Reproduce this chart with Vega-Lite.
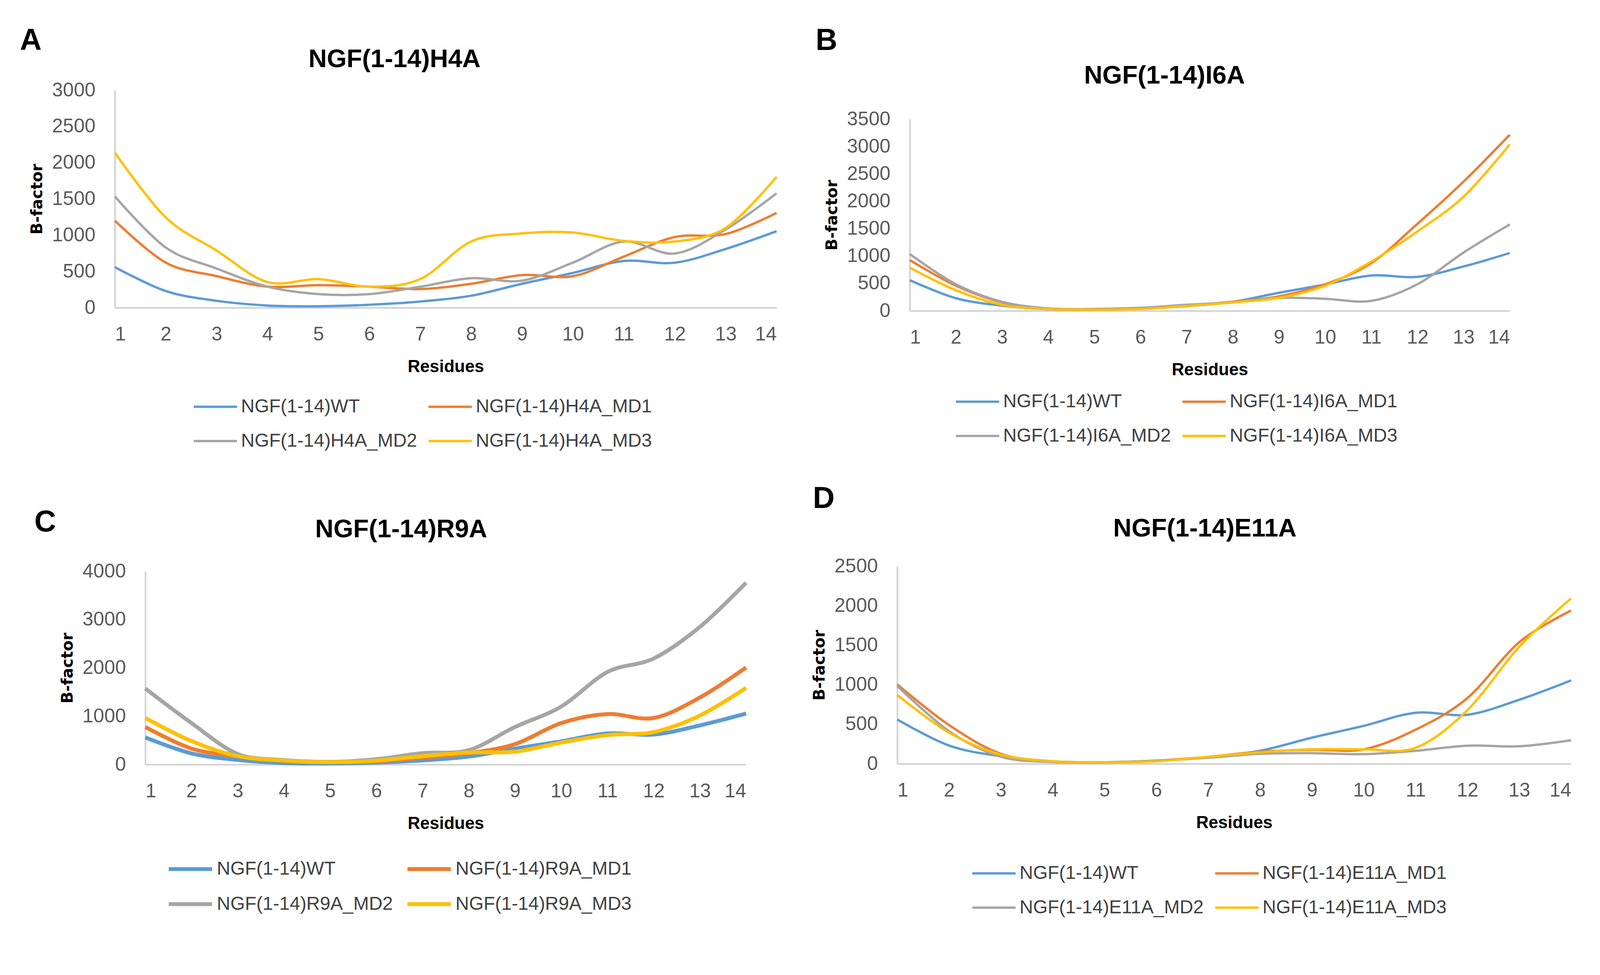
{
  "$schema": "https://vega.github.io/schema/vega-lite/v6.json",
  "background": "white",
  "padding": {"left": 51, "top": 66, "right": 10, "bottom": 10},
  "config": {
    "view": {"stroke": null},
    "font": "Liberation Sans",
    "title": {"font": "Liberation Sans", "fontWeight": "bold", "fontSize": 65, "color": "#000000"},
    "axis": {"domainColor": "#D0D0D0", "domainWidth": 4, "ticks": false, "grid": false, "labelFont": "Liberation Sans", "labelFontSize": 50, "labelColor": "#595959", "titleColor": "#000000"},
    "axisX": {"labelPadding": 43, "titleFont": "Liberation Sans", "titleFontSize": 44, "titleFontWeight": "bold", "titlePadding": 36},
    "axisY": {"labelPadding": 50, "titleFont": "DejaVu Sans", "titleFontSize": 40, "titleFontWeight": "bold", "titlePadding": 17},
    "legend": {"orient": "none", "columns": 2, "direction": "horizontal", "title": null, "symbolType": "stroke", "symbolSize": 12321, "symbolStrokeWidth": 6, "labelFont": "Liberation Sans", "labelFontSize": 48, "labelColor": "#404040", "labelLimit": 0, "labelOffset": 7, "rowPadding": 5, "columnPadding": 17, "padding": 0}
  },
  "datasets": {
    "A": [
      {"r":1,"s":"NGF(1-14)WT","b":560},{"r":2,"s":"NGF(1-14)WT","b":230},{"r":3,"s":"NGF(1-14)WT","b":95},{"r":4,"s":"NGF(1-14)WT","b":30},{"r":5,"s":"NGF(1-14)WT","b":20},{"r":6,"s":"NGF(1-14)WT","b":40},{"r":7,"s":"NGF(1-14)WT","b":85},{"r":8,"s":"NGF(1-14)WT","b":165},{"r":9,"s":"NGF(1-14)WT","b":330},{"r":10,"s":"NGF(1-14)WT","b":480},{"r":11,"s":"NGF(1-14)WT","b":645},{"r":12,"s":"NGF(1-14)WT","b":620},{"r":13,"s":"NGF(1-14)WT","b":810},{"r":14,"s":"NGF(1-14)WT","b":1055},
      {"r":1,"s":"NGF(1-14)H4A_MD1","b":1200},{"r":2,"s":"NGF(1-14)H4A_MD1","b":622},{"r":3,"s":"NGF(1-14)H4A_MD1","b":435},{"r":4,"s":"NGF(1-14)H4A_MD1","b":290},{"r":5,"s":"NGF(1-14)H4A_MD1","b":311},{"r":6,"s":"NGF(1-14)H4A_MD1","b":290},{"r":7,"s":"NGF(1-14)H4A_MD1","b":257},{"r":8,"s":"NGF(1-14)H4A_MD1","b":330},{"r":9,"s":"NGF(1-14)H4A_MD1","b":450},{"r":10,"s":"NGF(1-14)H4A_MD1","b":435},{"r":11,"s":"NGF(1-14)H4A_MD1","b":705},{"r":12,"s":"NGF(1-14)H4A_MD1","b":975},{"r":13,"s":"NGF(1-14)H4A_MD1","b":1016},{"r":14,"s":"NGF(1-14)H4A_MD1","b":1307},
      {"r":1,"s":"NGF(1-14)H4A_MD2","b":1535},{"r":2,"s":"NGF(1-14)H4A_MD2","b":830},{"r":3,"s":"NGF(1-14)H4A_MD2","b":540},{"r":4,"s":"NGF(1-14)H4A_MD2","b":290},{"r":5,"s":"NGF(1-14)H4A_MD2","b":187},{"r":6,"s":"NGF(1-14)H4A_MD2","b":187},{"r":7,"s":"NGF(1-14)H4A_MD2","b":290},{"r":8,"s":"NGF(1-14)H4A_MD2","b":407},{"r":9,"s":"NGF(1-14)H4A_MD2","b":373},{"r":10,"s":"NGF(1-14)H4A_MD2","b":622},{"r":11,"s":"NGF(1-14)H4A_MD2","b":913},{"r":12,"s":"NGF(1-14)H4A_MD2","b":747},{"r":13,"s":"NGF(1-14)H4A_MD2","b":1079},{"r":14,"s":"NGF(1-14)H4A_MD2","b":1577},
      {"r":1,"s":"NGF(1-14)H4A_MD3","b":2137},{"r":2,"s":"NGF(1-14)H4A_MD3","b":1245},{"r":3,"s":"NGF(1-14)H4A_MD3","b":788},{"r":4,"s":"NGF(1-14)H4A_MD3","b":353},{"r":5,"s":"NGF(1-14)H4A_MD3","b":394},{"r":6,"s":"NGF(1-14)H4A_MD3","b":290},{"r":7,"s":"NGF(1-14)H4A_MD3","b":394},{"r":8,"s":"NGF(1-14)H4A_MD3","b":913},{"r":9,"s":"NGF(1-14)H4A_MD3","b":1025},{"r":10,"s":"NGF(1-14)H4A_MD3","b":1037},{"r":11,"s":"NGF(1-14)H4A_MD3","b":921},{"r":12,"s":"NGF(1-14)H4A_MD3","b":913},{"r":13,"s":"NGF(1-14)H4A_MD3","b":1100},{"r":14,"s":"NGF(1-14)H4A_MD3","b":1805}
    ],
    "B": [
      {"r":1,"s":"NGF(1-14)WT","b":560},{"r":2,"s":"NGF(1-14)WT","b":230},{"r":3,"s":"NGF(1-14)WT","b":95},{"r":4,"s":"NGF(1-14)WT","b":30},{"r":5,"s":"NGF(1-14)WT","b":20},{"r":6,"s":"NGF(1-14)WT","b":40},{"r":7,"s":"NGF(1-14)WT","b":85},{"r":8,"s":"NGF(1-14)WT","b":165},{"r":9,"s":"NGF(1-14)WT","b":330},{"r":10,"s":"NGF(1-14)WT","b":480},{"r":11,"s":"NGF(1-14)WT","b":645},{"r":12,"s":"NGF(1-14)WT","b":620},{"r":13,"s":"NGF(1-14)WT","b":810},{"r":14,"s":"NGF(1-14)WT","b":1055},
      {"r":1,"s":"NGF(1-14)I6A_MD1","b":926},{"r":2,"s":"NGF(1-14)I6A_MD1","b":458},{"r":3,"s":"NGF(1-14)I6A_MD1","b":154},{"r":4,"s":"NGF(1-14)I6A_MD1","b":33},{"r":5,"s":"NGF(1-14)I6A_MD1","b":22},{"r":6,"s":"NGF(1-14)I6A_MD1","b":44},{"r":7,"s":"NGF(1-14)I6A_MD1","b":99},{"r":8,"s":"NGF(1-14)I6A_MD1","b":165},{"r":9,"s":"NGF(1-14)I6A_MD1","b":265},{"r":10,"s":"NGF(1-14)I6A_MD1","b":485},{"r":11,"s":"NGF(1-14)I6A_MD1","b":871},{"r":12,"s":"NGF(1-14)I6A_MD1","b":1588},{"r":13,"s":"NGF(1-14)I6A_MD1","b":2360},{"r":14,"s":"NGF(1-14)I6A_MD1","b":3214},
      {"r":1,"s":"NGF(1-14)I6A_MD2","b":1036},{"r":2,"s":"NGF(1-14)I6A_MD2","b":485},{"r":3,"s":"NGF(1-14)I6A_MD2","b":165},{"r":4,"s":"NGF(1-14)I6A_MD2","b":44},{"r":5,"s":"NGF(1-14)I6A_MD2","b":33},{"r":6,"s":"NGF(1-14)I6A_MD2","b":55},{"r":7,"s":"NGF(1-14)I6A_MD2","b":110},{"r":8,"s":"NGF(1-14)I6A_MD2","b":154},{"r":9,"s":"NGF(1-14)I6A_MD2","b":237},{"r":10,"s":"NGF(1-14)I6A_MD2","b":220},{"r":11,"s":"NGF(1-14)I6A_MD2","b":182},{"r":12,"s":"NGF(1-14)I6A_MD2","b":485},{"r":13,"s":"NGF(1-14)I6A_MD2","b":1064},{"r":14,"s":"NGF(1-14)I6A_MD2","b":1577},
      {"r":1,"s":"NGF(1-14)I6A_MD3","b":788},{"r":2,"s":"NGF(1-14)I6A_MD3","b":375},{"r":3,"s":"NGF(1-14)I6A_MD3","b":110},{"r":4,"s":"NGF(1-14)I6A_MD3","b":33},{"r":5,"s":"NGF(1-14)I6A_MD3","b":22},{"r":6,"s":"NGF(1-14)I6A_MD3","b":33},{"r":7,"s":"NGF(1-14)I6A_MD3","b":88},{"r":8,"s":"NGF(1-14)I6A_MD3","b":154},{"r":9,"s":"NGF(1-14)I6A_MD3","b":237},{"r":10,"s":"NGF(1-14)I6A_MD3","b":458},{"r":11,"s":"NGF(1-14)I6A_MD3","b":899},{"r":12,"s":"NGF(1-14)I6A_MD3","b":1450},{"r":13,"s":"NGF(1-14)I6A_MD3","b":2084},{"r":14,"s":"NGF(1-14)I6A_MD3","b":3038}
    ],
    "C": [
      {"r":1,"s":"NGF(1-14)WT","b":560},{"r":2,"s":"NGF(1-14)WT","b":230},{"r":3,"s":"NGF(1-14)WT","b":95},{"r":4,"s":"NGF(1-14)WT","b":30},{"r":5,"s":"NGF(1-14)WT","b":20},{"r":6,"s":"NGF(1-14)WT","b":40},{"r":7,"s":"NGF(1-14)WT","b":85},{"r":8,"s":"NGF(1-14)WT","b":165},{"r":9,"s":"NGF(1-14)WT","b":330},{"r":10,"s":"NGF(1-14)WT","b":480},{"r":11,"s":"NGF(1-14)WT","b":645},{"r":12,"s":"NGF(1-14)WT","b":620},{"r":13,"s":"NGF(1-14)WT","b":810},{"r":14,"s":"NGF(1-14)WT","b":1055},
      {"r":1,"s":"NGF(1-14)R9A_MD1","b":777},{"r":2,"s":"NGF(1-14)R9A_MD1","b":330},{"r":3,"s":"NGF(1-14)R9A_MD1","b":174},{"r":4,"s":"NGF(1-14)R9A_MD1","b":81},{"r":5,"s":"NGF(1-14)R9A_MD1","b":50},{"r":6,"s":"NGF(1-14)R9A_MD1","b":68},{"r":7,"s":"NGF(1-14)R9A_MD1","b":143},{"r":8,"s":"NGF(1-14)R9A_MD1","b":236},{"r":9,"s":"NGF(1-14)R9A_MD1","b":423},{"r":10,"s":"NGF(1-14)R9A_MD1","b":858},{"r":11,"s":"NGF(1-14)R9A_MD1","b":1045},{"r":12,"s":"NGF(1-14)R9A_MD1","b":964},{"r":13,"s":"NGF(1-14)R9A_MD1","b":1387},{"r":14,"s":"NGF(1-14)R9A_MD1","b":2009},
      {"r":1,"s":"NGF(1-14)R9A_MD2","b":1573},{"r":2,"s":"NGF(1-14)R9A_MD2","b":858},{"r":3,"s":"NGF(1-14)R9A_MD2","b":218},{"r":4,"s":"NGF(1-14)R9A_MD2","b":93},{"r":5,"s":"NGF(1-14)R9A_MD2","b":56},{"r":6,"s":"NGF(1-14)R9A_MD2","b":112},{"r":7,"s":"NGF(1-14)R9A_MD2","b":236},{"r":8,"s":"NGF(1-14)R9A_MD2","b":298},{"r":9,"s":"NGF(1-14)R9A_MD2","b":777},{"r":10,"s":"NGF(1-14)R9A_MD2","b":1200},{"r":11,"s":"NGF(1-14)R9A_MD2","b":1915},{"r":12,"s":"NGF(1-14)R9A_MD2","b":2195},{"r":13,"s":"NGF(1-14)R9A_MD2","b":2848},{"r":14,"s":"NGF(1-14)R9A_MD2","b":3762},
      {"r":1,"s":"NGF(1-14)R9A_MD3","b":964},{"r":2,"s":"NGF(1-14)R9A_MD3","b":485},{"r":3,"s":"NGF(1-14)R9A_MD3","b":174},{"r":4,"s":"NGF(1-14)R9A_MD3","b":81},{"r":5,"s":"NGF(1-14)R9A_MD3","b":50},{"r":6,"s":"NGF(1-14)R9A_MD3","b":81},{"r":7,"s":"NGF(1-14)R9A_MD3","b":174},{"r":8,"s":"NGF(1-14)R9A_MD3","b":249},{"r":9,"s":"NGF(1-14)R9A_MD3","b":267},{"r":10,"s":"NGF(1-14)R9A_MD3","b":454},{"r":11,"s":"NGF(1-14)R9A_MD3","b":609},{"r":12,"s":"NGF(1-14)R9A_MD3","b":672},{"r":13,"s":"NGF(1-14)R9A_MD3","b":1014},{"r":14,"s":"NGF(1-14)R9A_MD3","b":1586}
    ],
    "D": [
      {"r":1,"s":"NGF(1-14)WT","b":560},{"r":2,"s":"NGF(1-14)WT","b":230},{"r":3,"s":"NGF(1-14)WT","b":95},{"r":4,"s":"NGF(1-14)WT","b":30},{"r":5,"s":"NGF(1-14)WT","b":20},{"r":6,"s":"NGF(1-14)WT","b":40},{"r":7,"s":"NGF(1-14)WT","b":85},{"r":8,"s":"NGF(1-14)WT","b":165},{"r":9,"s":"NGF(1-14)WT","b":330},{"r":10,"s":"NGF(1-14)WT","b":480},{"r":11,"s":"NGF(1-14)WT","b":645},{"r":12,"s":"NGF(1-14)WT","b":620},{"r":13,"s":"NGF(1-14)WT","b":810},{"r":14,"s":"NGF(1-14)WT","b":1055},
      {"r":1,"s":"NGF(1-14)E11A_MD1","b":1004},{"r":2,"s":"NGF(1-14)E11A_MD1","b":489},{"r":3,"s":"NGF(1-14)E11A_MD1","b":126},{"r":4,"s":"NGF(1-14)E11A_MD1","b":31},{"r":5,"s":"NGF(1-14)E11A_MD1","b":19},{"r":6,"s":"NGF(1-14)E11A_MD1","b":38},{"r":7,"s":"NGF(1-14)E11A_MD1","b":88},{"r":8,"s":"NGF(1-14)E11A_MD1","b":153},{"r":9,"s":"NGF(1-14)E11A_MD1","b":176},{"r":10,"s":"NGF(1-14)E11A_MD1","b":183},{"r":11,"s":"NGF(1-14)E11A_MD1","b":431},{"r":12,"s":"NGF(1-14)E11A_MD1","b":832},{"r":13,"s":"NGF(1-14)E11A_MD1","b":1538},{"r":14,"s":"NGF(1-14)E11A_MD1","b":1939},
      {"r":1,"s":"NGF(1-14)E11A_MD2","b":985},{"r":2,"s":"NGF(1-14)E11A_MD2","b":412},{"r":3,"s":"NGF(1-14)E11A_MD2","b":88},{"r":4,"s":"NGF(1-14)E11A_MD2","b":23},{"r":5,"s":"NGF(1-14)E11A_MD2","b":15},{"r":6,"s":"NGF(1-14)E11A_MD2","b":38},{"r":7,"s":"NGF(1-14)E11A_MD2","b":76},{"r":8,"s":"NGF(1-14)E11A_MD2","b":126},{"r":9,"s":"NGF(1-14)E11A_MD2","b":134},{"r":10,"s":"NGF(1-14)E11A_MD2","b":122},{"r":11,"s":"NGF(1-14)E11A_MD2","b":164},{"r":12,"s":"NGF(1-14)E11A_MD2","b":229},{"r":13,"s":"NGF(1-14)E11A_MD2","b":221},{"r":14,"s":"NGF(1-14)E11A_MD2","b":298},
      {"r":1,"s":"NGF(1-14)E11A_MD3","b":870},{"r":2,"s":"NGF(1-14)E11A_MD3","b":393},{"r":3,"s":"NGF(1-14)E11A_MD3","b":115},{"r":4,"s":"NGF(1-14)E11A_MD3","b":31},{"r":5,"s":"NGF(1-14)E11A_MD3","b":19},{"r":6,"s":"NGF(1-14)E11A_MD3","b":31},{"r":7,"s":"NGF(1-14)E11A_MD3","b":88},{"r":8,"s":"NGF(1-14)E11A_MD3","b":145},{"r":9,"s":"NGF(1-14)E11A_MD3","b":183},{"r":10,"s":"NGF(1-14)E11A_MD3","b":183},{"r":11,"s":"NGF(1-14)E11A_MD3","b":202},{"r":12,"s":"NGF(1-14)E11A_MD3","b":679},{"r":13,"s":"NGF(1-14)E11A_MD3","b":1481},{"r":14,"s":"NGF(1-14)E11A_MD3","b":2092}
    ]
  },
  "spacing": 85,
  "resolve": {"scale": {"color": "independent"}, "legend": {"color": "independent"}},
  "vconcat": [
    {
      "spacing": 88,
      "resolve": {"scale": {"color": "independent"}, "legend": {"color": "independent"}},
      "hconcat": [
        {
          "title": {"text": "A", "anchor": "start", "frame": "group", "fontSize": 77, "dx": -243, "offset": -24},
          "resolve": {"scale": {"color": "independent"}, "legend": {"color": "independent"}},
          "vconcat": [
            {
              "title": {"text": "NGF(1-14)H4A", "offset": 20, "dx": -131},
              "width": 1694, "height": 557,
              "data": {"name": "A"},
              "mark": {"type": "line", "interpolate": "cardinal", "strokeWidth": 6},
              "encoding": {
                "x": {"field": "r", "type": "quantitative", "scale": {"domain": [1, 14], "nice": false, "zero": false}, "axis": {"values": [1,2,3,4,5,6,7,8,9,10,11,12,13,14], "format": "d", "title": "Residues"}},
                "y": {"field": "b", "type": "quantitative", "scale": {"domain": [0, 3000], "nice": false}, "axis": {"values": [0,500,1000,1500,2000,2500,3000], "format": "d", "title": "B-factor"}},
                "color": {"field": "s", "type": "nominal", "scale": {"domain": ["NGF(1-14)WT","NGF(1-14)H4A_MD1","NGF(1-14)H4A_MD2","NGF(1-14)H4A_MD3"], "range": ["#5B9BD5","#ED7D31","#A5A5A5","#FFC000"]}, "legend": {"legendX": 199, "legendY": 752}}
              }
            }
          ]
        },
        {
          "title": {"text": "B", "anchor": "start", "frame": "group", "fontSize": 77, "dx": -241, "offset": 18},
          "resolve": {"scale": {"color": "independent"}, "legend": {"color": "independent"}},
          "vconcat": [
            {
              "title": {"text": "NGF(1-14)I6A", "offset": 3, "dx": -116},
              "width": 1536, "height": 565,
              "data": {"name": "B"},
              "mark": {"type": "line", "interpolate": "cardinal", "strokeWidth": 6},
              "encoding": {
                "x": {"field": "r", "type": "quantitative", "scale": {"domain": [1, 14], "nice": false, "zero": false}, "axis": {"values": [1,2,3,4,5,6,7,8,9,10,11,12,13,14], "format": "d", "title": "Residues"}},
                "y": {"field": "b", "type": "quantitative", "scale": {"domain": [0, 3500], "nice": false, "range": [565, 74]}, "axis": {"values": [0,500,1000,1500,2000,2500,3000,3500], "format": "d", "title": "B-factor"}},
                "color": {"field": "s", "type": "nominal", "scale": {"domain": ["NGF(1-14)WT","NGF(1-14)I6A_MD1","NGF(1-14)I6A_MD2","NGF(1-14)I6A_MD3"], "range": ["#5B9BD5","#ED7D31","#A5A5A5","#FFC000"]}, "legend": {"legendX": 115, "legendY": 739}}
              }
            }
          ]
        }
      ]
    },
    {
      "spacing": 148,
      "resolve": {"scale": {"color": "independent"}, "legend": {"color": "independent"}},
      "hconcat": [
        {
          "title": {"text": "C", "anchor": "start", "frame": "group", "fontSize": 77, "dx": -206, "offset": -53},
          "resolve": {"scale": {"color": "independent"}, "legend": {"color": "independent"}},
          "vconcat": [
            {
              "title": {"text": "NGF(1-14)R9A", "offset": 48, "dx": -75},
              "width": 1616, "height": 508,
              "data": {"name": "C"},
              "mark": {"type": "line", "interpolate": "cardinal", "strokeWidth": 10},
              "encoding": {
                "x": {"field": "r", "type": "quantitative", "scale": {"domain": [1, 14], "nice": false, "zero": false, "range": [78, 1616]}, "axis": {"values": [1,2,3,4,5,6,7,8,9,10,11,12,13,14], "format": "d", "title": "Residues"}},
                "y": {"field": "b", "type": "quantitative", "scale": {"domain": [0, 4000], "nice": false, "range": [508, 13]}, "axis": {"values": [0,1000,2000,3000,4000], "format": "d", "title": "B-factor", "offset": -78}},
                "color": {"field": "s", "type": "nominal", "scale": {"domain": ["NGF(1-14)WT","NGF(1-14)R9A_MD1","NGF(1-14)R9A_MD2","NGF(1-14)R9A_MD3"], "range": ["#5B9BD5","#ED7D31","#A5A5A5","#FFC000"]}, "legend": {"symbolStrokeWidth": 10, "legendX": 133, "legendY": 715}}
              }
            }
          ]
        },
        {
          "title": {"text": "D", "anchor": "start", "frame": "group", "fontSize": 77, "dx": -216, "offset": 5},
          "resolve": {"scale": {"color": "independent"}, "legend": {"color": "independent"}},
          "vconcat": [
            {
              "title": {"text": "NGF(1-14)E11A", "offset": 37, "dx": -75},
              "width": 1725, "height": 506,
              "data": {"name": "D"},
              "mark": {"type": "line", "interpolate": "cardinal", "strokeWidth": 6},
              "encoding": {
                "x": {"field": "r", "type": "quantitative", "scale": {"domain": [1, 14], "nice": false, "zero": false}, "axis": {"values": [1,2,3,4,5,6,7,8,9,10,11,12,13,14], "format": "d", "title": "Residues"}},
                "y": {"field": "b", "type": "quantitative", "scale": {"domain": [0, 2500], "nice": false}, "axis": {"values": [0,500,1000,1500,2000,2500], "format": "d", "title": "B-factor"}},
                "color": {"field": "s", "type": "nominal", "scale": {"domain": ["NGF(1-14)WT","NGF(1-14)E11A_MD1","NGF(1-14)E11A_MD2","NGF(1-14)E11A_MD3"], "range": ["#5B9BD5","#ED7D31","#A5A5A5","#FFC000"]}, "legend": {"legendX": 189, "legendY": 728}}
              }
            }
          ]
        }
      ]
    }
  ]
}
